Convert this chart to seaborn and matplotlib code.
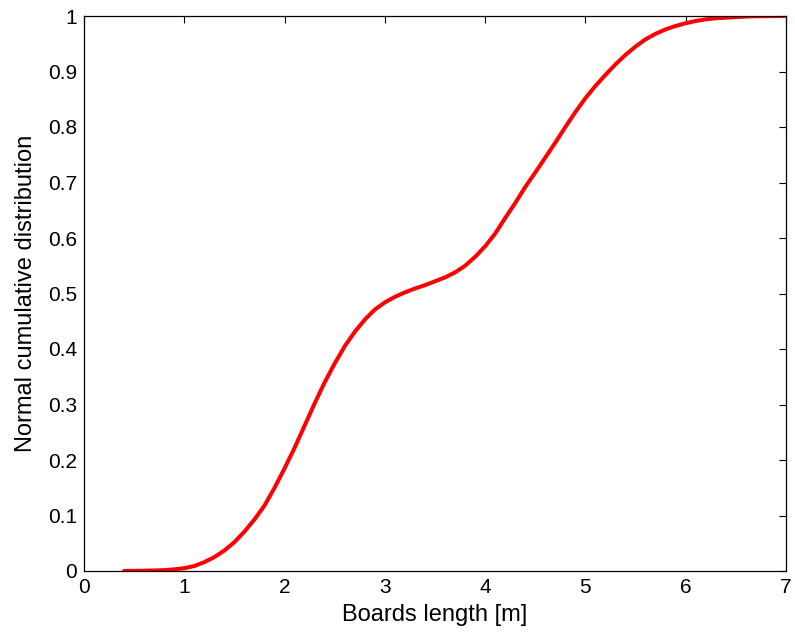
import numpy as np
import pandas as pd
import matplotlib
matplotlib.use("Agg")
import matplotlib.pyplot as plt
import seaborn as sns

# values
board_length = [0.4, 0.5, 0.6, 0.7, 0.8, 0.9, 1.0, 1.1, 1.2, 1.3, 1.4, 1.5, 1.6,
                1.7, 1.8, 1.9, 2.0, 2.1, 2.2, 2.3, 2.4, 2.5, 2.6, 2.7, 2.8, 2.9,
                3.0, 3.1, 3.2, 3.3, 3.4, 3.5, 3.6, 3.7, 3.8, 3.9, 4.0, 4.1, 4.2,
                4.3, 4.4, 4.5, 4.6, 4.7, 4.8, 4.9, 5.0, 5.1, 5.2, 5.3, 5.4, 5.5,
                5.6, 5.7, 5.8, 5.9, 6.0, 6.1, 6.2, 6.3, 6.4, 6.5, 6.6, 6.7, 6.8,
                6.9, 7.0]
cum_dist = [0.0002, 0.0003, 0.0005, 0.001, 0.0015, 0.003, 0.005, 0.009, 0.016,
            0.025, 0.037, 0.052, 0.071, 0.093, 0.118, 0.150, 0.185, 0.222,
            0.262, 0.302, 0.340, 0.374, 0.405, 0.431, 0.453, 0.471, 0.484,
            0.494, 0.502, 0.509, 0.515, 0.522, 0.529, 0.538, 0.550, 0.566,
            0.585, 0.608, 0.636, 0.663, 0.692, 0.718, 0.745, 0.772, 0.800,
            0.827, 0.852, 0.874, 0.894, 0.913, 0.930, 0.945, 0.958, 0.968,
            0.976, 0.982, 0.987, 0.991, 0.994, 0.996, 0.997, 0.998, 0.999,
            0.9995, 0.9997, 0.9999, 1.0]
x_ticks = [0, 1, 2, 3, 4, 5, 6, 7]
y_ticks = [0, 0.1, 0.2, 0.3, 0.4, 0.5, 0.6, 0.7, 0.8, 0.9, 1]
y_tick_labels = ["0", "0.1", "0.2", "0.3", "0.4", "0.5", "0.6", "0.7", "0.8", "0.9", "1"]

sns.set_style("white")
plt.rcParams["font.family"] = ["Liberation Sans", "DejaVu Sans"]
plt.rcParams["text.color"] = "black"
plt.rcParams["axes.labelcolor"] = "black"
plt.rcParams["xtick.color"] = "black"
plt.rcParams["ytick.color"] = "black"

df = pd.DataFrame({"length": board_length, "cdf": cum_dist})

fig = plt.figure(figsize=(7.95, 6.35), dpi=100)
ax = fig.add_axes([84 / 795, 64 / 635, 702 / 795, 555 / 635])
sns.lineplot(data=df, x="length", y="cdf", color="#ff0000", linewidth=2.9, ax=ax)

ax.set_xlim(0, 7)
ax.set_ylim(0, 1)
ax.set_xticks(x_ticks)
ax.set_yticks(y_ticks)
ax.set_yticklabels(y_tick_labels)
ax.tick_params(direction="in", length=5, width=0.8, labelsize=15,
               top=True, right=True, colors="black", pad=5)
for s in ax.spines.values():
    s.set_color("black")
    s.set_linewidth(0.9)
ax.set_xlabel("Boards length [m]", fontsize=17, labelpad=5)
ax.set_ylabel("Normal cumulative distribution", fontsize=17, labelpad=8)

fig.savefig("out.png", dpi=100)
